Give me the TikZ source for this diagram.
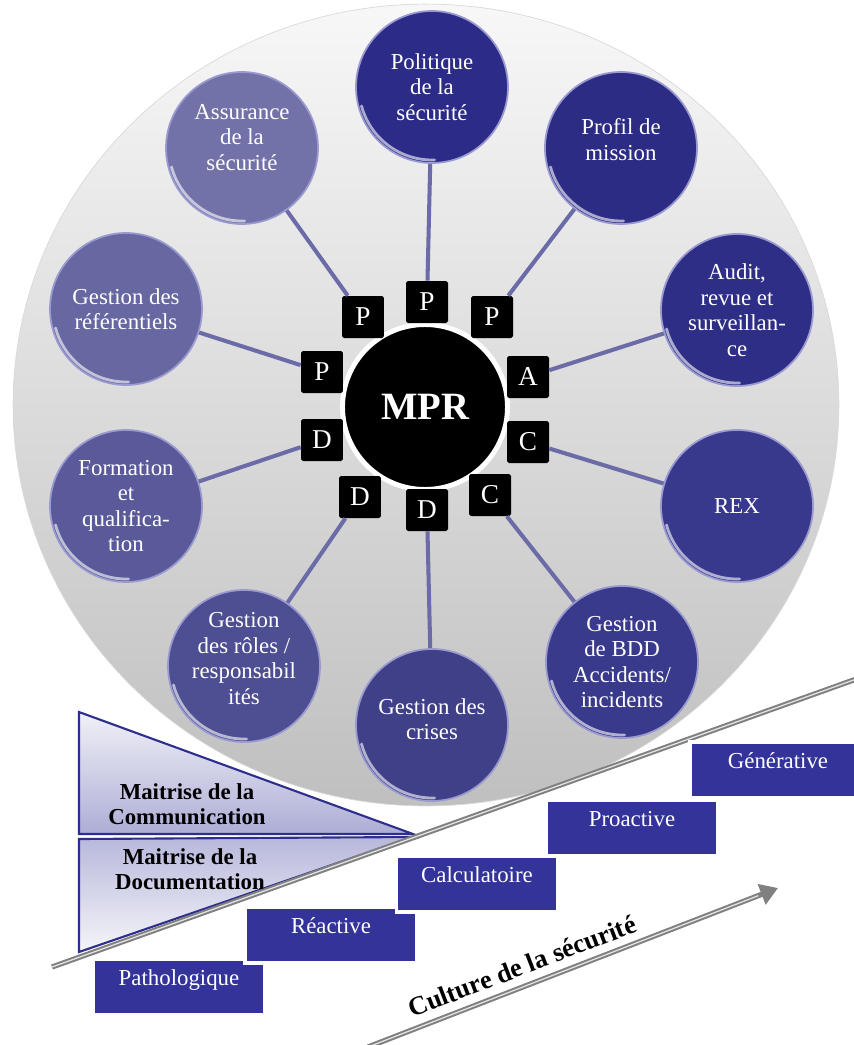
\documentclass[tikz,border=0pt]{standalone}
\usepackage{fontspec}
\setmainfont{Liberation Serif}
\usetikzlibrary{arrows.meta}
\definecolor{c2c2c88}{RGB}{44,44,136}
\definecolor{c2c2c84}{RGB}{44,44,132}
\definecolor{c2e2e86}{RGB}{46,46,134}
\definecolor{c38388c}{RGB}{56,56,140}
\definecolor{c3a3a8c}{RGB}{58,58,140}
\definecolor{c404088}{RGB}{64,64,136}
\definecolor{c4e4e92}{RGB}{78,78,146}
\definecolor{c5a5a9a}{RGB}{90,90,154}
\definecolor{c6767a2}{RGB}{103,103,162}
\definecolor{c7272a8}{RGB}{114,114,168}
\definecolor{c6b6ba8}{RGB}{107,107,168}
\definecolor{c9a9ad0}{RGB}{154,154,208}
\definecolor{c333399}{RGB}{51,51,153}
\definecolor{c2e2e8c}{RGB}{46,46,140}

\begin{document}
\begin{tikzpicture}[x=0.02cm,y=-0.02cm,
  link/.style={draw=c6b6ba8,line width=2.3pt},
  stepbox/.style={fill=c333399,draw=white,line width=2pt,minimum width=3.44cm,inner sep=3pt,text height=12pt,text depth=13.7pt,text=white,font=\fontsize{13}{13}\selectfont}]

\useasboundingbox (0,0) rectangle (854,1045);

% fond gris
\shade[top color=black!3,middle color=black!11,bottom color=black!25,draw=black!15] (426,405) ellipse (8.26cm and 8.02cm);

\begin{scope}[every node/.style={circle,minimum size=3.04cm,inner sep=0pt,align=center,text=white,draw=c9a9ad0,line width=1pt,font=\fontsize{13}{14.5}\selectfont,
  path picture={\draw[white,opacity=0.6,line width=1.6pt,line cap=round] (path picture bounding box.center) ++(195:1.46cm) arc (195:272:1.46cm);}}]
\node[fill=c2c2c88] (pol) at (432,87) {Politique\\de la\\sécurité};
\node[fill=c2c2c84] (prof) at (621,148) {Profil de\\mission\\[-5pt]};
\node[fill=c2e2e86] (audit) at (737,310) {Audit,\\revue et\\surveillan-\\ce};
\node[fill=c38388c] (rex) at (737,506) {REX};
\node[fill=c3a3a8c] (bdd) at (622,662) {Gestion\\de BDD\\Accidents/\\incidents};
\node[fill=c404088] (crises) at (432,725) {Gestion des\\crises\\[-7.5pt]};
\node[fill=c4e4e92] (roles) at (244,666) {Gestion\\des rôles /\\responsabil\\ités\\[-6pt]};
\node[fill=c5a5a9a] (form) at (126,506) {Formation\\et\\qualifica-\\tion};
\node[fill=c6767a2] (refs) at (126,309) {Gestion des\\référentiels};
\node[fill=c7272a8] (assur) at (242,148) {Assurance\\de la\\sécurité\\[-2pt]};
\end{scope}

\node[circle,fill=black,draw=white,line width=2.8pt,minimum size=3.3cm,text=white,font=\bfseries\fontsize{22}{22}\selectfont] (mpr) at (425,407) {MPR};

\begin{scope}[every node/.style={fill=black,text=white,minimum size=0.84cm,inner sep=0pt,rounded corners=1pt,font=\fontsize{15.5}{15.5}\selectfont}]
\node (P1) at (363,317) {P};
\node (P2) at (427,302) {P};
\node (P3) at (492,317) {P};
\node (A1) at (528,377) {A};
\node (C1) at (528,442) {C};
\node (C2) at (490,495) {C};
\node (D1) at (427,510) {D};
\node (D2) at (360,497) {D};
\node (D3) at (322,440) {D};
\node (P4) at (322,372) {P};
\end{scope}
%
\begin{scope}[link]
\draw[-] (assur) to (P1);
\draw[-] (pol) to (P2);
\draw[-] (prof) to (P3);
\draw[-] (audit) to (A1);
\draw[-] (rex) to (C1);
\draw[-] (bdd) to (C2);
\draw[-] (crises) to (D1);
\draw[-] (roles) to (D2);
\draw[-] (form) to (D3);
\draw[-] (refs) to (P4);
\end{scope}

% triangles
\draw[c2e2e8c,line width=1.2pt,top color=c333399!7!white,bottom color=c333399!40!white] (79,712) -- (413,834) -- (79,834) -- cycle;
\draw[c2e2e8c,line width=1.2pt,top color=c333399!35!white,bottom color=c333399!5!white] (79,839) -- (413,837) -- (79,952) -- cycle;

\node[font=\bfseries\fontsize{13}{14.2}\selectfont,align=center] (com) at (187,804) {Maitrise de la\\Communication};
\node[font=\bfseries\fontsize{13}{14.2}\selectfont,align=center] (doc) at (190,869) {Maitrise de la\\Documentation};

% ligne
\coordinate (l1) at (52,967);
\coordinate (l2) at (862,677);
\draw[black!50,line width=3pt] (l1) -- (l2);
\draw[black!10,line width=0.7pt] (l1) -- (l2);

% marches
\node[stepbox] (path) at (179,987) {Pathologique};
\node[stepbox] (reac) at (331,935) {Réactive};
\node[stepbox,minimum width=3.22cm] (calc) at (477,884) {Calculatoire};
\node[stepbox] (proa) at (632,828) {Proactive};
\node[stepbox,minimum width=3.52cm] (gene) at (778,770) {Générative};

% fleche
\coordinate (a1) at (368,1047);
\coordinate (a2) at (778,888);
\draw[black!50,line width=3pt,-{Triangle[width=12pt,length=10pt]}] (a1) -- (a2);
\draw[black!10,line width=0.7pt,shorten >=12pt] (a1) -- (a2);

\node[rotate=21,font=\bfseries\fontsize{15}{15}\selectfont] (cult) at (522,966) {Culture de la sécurité};

\end{tikzpicture}
\end{document}
